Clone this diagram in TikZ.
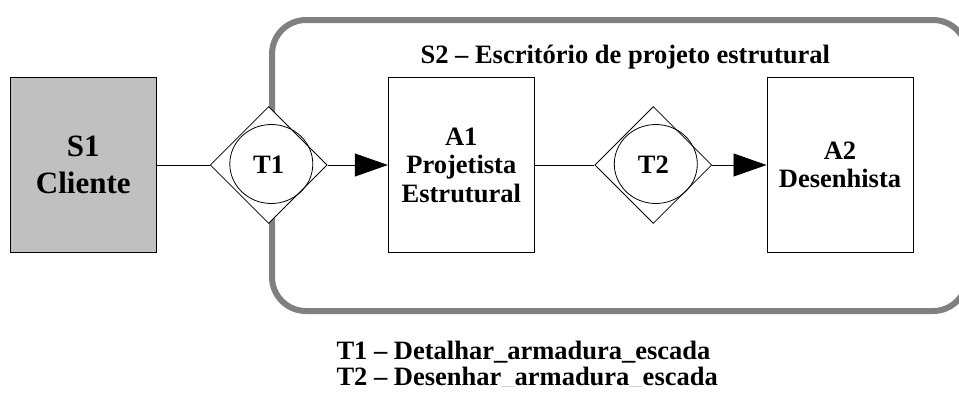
\documentclass[tikz,border=0pt]{standalone}
\usepackage{fontspec}
\setmainfont{Liberation Serif}
\usetikzlibrary{shapes.geometric,arrows.meta}
\definecolor{framegray}{RGB}{128,128,128}
\definecolor{actorgray}{RGB}{192,192,192}
\begin{document}
\begin{tikzpicture}[x=1pt,y=-1pt,
  lbl/.style={font=\fontsize{26.5}{28.5}\selectfont\bfseries},
  actor/.style={draw, line width=1pt, minimum width=146pt, minimum height=175pt,
    inner sep=0pt, align=center, lbl},
  trans/.style={diamond, draw, fill=white, line width=0.8pt, minimum width=117pt,
    minimum height=117pt, inner sep=0pt, lbl},
  tcirc/.style={ellipse, draw, line width=0.8pt, minimum width=83pt,
    minimum height=79pt, inner sep=0pt},
  sysframe/.style={draw=framegray, line width=6pt, rounded corners=34pt},
  conn/.style={line width=0.8pt},
  arr/.style={line width=0.8pt, -{Triangle[length=33pt,width=23pt]}}]
\path[use as bounding box] (0,0) rectangle (959,392);
\begin{scope}
\clip (-10,-10) rectangle (959,386);
% system boundary
\coordinate (S2nw) at (272,20);
\coordinate (S2se) at (967,311);
\draw[sysframe] (S2nw) rectangle (S2se);
\node[lbl, anchor=base west] (S2t) at (417,63) {S2 – Escritório de projeto estrutural};
% actors
\node[actor, fill=actorgray, font=\fontsize{31}{37}\selectfont\bfseries] (S1) at (83.3,165) {S1\\Cliente};
\node[actor] (A1) at (461.3,165) {A1\\Projetista\\Estrutural};
\node[actor] (A2) at (840,165) {A2\\Desenhista};
% transactions
\node[trans] (T1) at (268.7,165) {T1};
\node[tcirc] (T1c) at (271.3,164) {};
\node[trans] (T2) at (653.3,165) {T2};
\node[tcirc] (T2c) at (655.8,164) {};
% connectors
\draw[conn] (S1.east) -- (T1.west);
\draw[arr] (T1.east) -- (A1.west);
\draw[conn] (A1.east) -- (T2.west);
\draw[arr] (T2.east) -- (A2.west);
% legend
\node[lbl, anchor=base west] (L1) at (333,359) {T1 – Detalhar\_armadura\_escada};
\node[lbl, anchor=base west] (L2) at (333,385) {T2 – Desenhar\_armadura\_escada};
\end{scope}
\end{tikzpicture}
\end{document}
